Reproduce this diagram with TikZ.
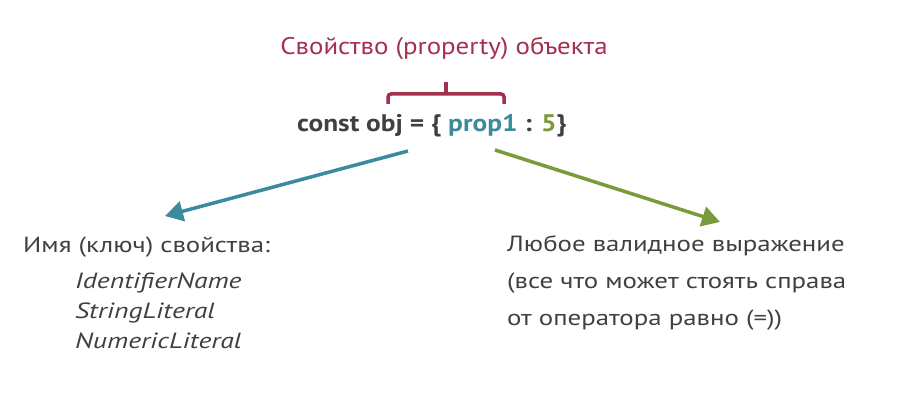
\documentclass[tikz,border=0pt]{standalone}
\usepackage{fontspec}
\setmainfont{PT Sans}
\newfontfamily\titlefont[FakeStretch=1.12]{PT Sans}
\newfontfamily\codefont[FakeStretch=1.14]{PT Sans}
\newfontfamily\bodyfont[FakeStretch=1.22]{PT Sans}
\newfontfamily\itfont[FakeStretch=1.26]{PT Sans}
\usetikzlibrary{arrows.meta}
\definecolor{cred}{HTML}{A3304C}
\definecolor{cteal}{HTML}{3C8A9E}
\definecolor{cgreen}{HTML}{7B9A3C}
\definecolor{ctext}{HTML}{404040}
\tikzset{
  txt/.style={inner sep=0pt, anchor=base west, text=ctext, font=\bodyfont\fontsize{22}{26}\selectfont},
  ittxt/.style={txt, font=\itfont\fontsize{22}{26}\selectfont\itshape},
  arr/.style={line width=3.5pt, -{Triangle[length=18pt,width=20pt]}},
}
\begin{document}
\begin{tikzpicture}[x=1pt,y=-1pt]
\useasboundingbox (0,0) rectangle (899,414);
\node[inner sep=0pt, anchor=base, text=cred, font=\titlefont\fontsize{24}{28}\selectfont] (title) at (444,55) {Свойство (property) объекта};
\node[inner sep=0pt, anchor=base west, text=ctext, font=\codefont\fontsize{24}{28}\selectfont\bfseries] (code) at (297,132)
  {const obj = \{ \textcolor{cteal}{prop1} : \textcolor{cgreen}{5}\}};
\coordinate (bl) at (388,104);
\coordinate (br) at (504,104);
\coordinate (bt) at (446,82);
\draw[cred, line width=3.5pt, rounded corners=3pt] (bl) -- (388,94) -- (504,94) -- (br);
\draw[cred, line width=3.5pt] (bt) -- (446,94);
\coordinate (s1) at (408,151);
\coordinate (e1) at (165,216);
\coordinate (s2) at (495,150);
\coordinate (e2) at (720,222);
\draw[arr, cteal] (s1) -- (e1);
\draw[arr, cgreen] (s2) -- (e2);
\node[txt] (l1) at (23,252) {Имя (ключ) свойства:};
\node[ittxt] (l2) at (75,288) {IdentifierName};
\node[ittxt] (l3) at (75,318) {StringLiteral};
\node[ittxt] (l4) at (75,348) {NumericLiteral};
\node[txt] (r1) at (507,251) {Любое валидное выражение};
\node[txt] (r2) at (507,288) {(все что может стоять справа};
\node[txt] (r3) at (507,325) {от оператора равно (=))};
\end{tikzpicture}
\end{document}
